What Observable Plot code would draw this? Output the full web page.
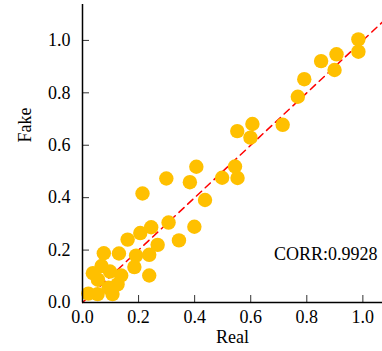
<!DOCTYPE html>
<html><head><meta charset="utf-8">
<script src="https://cdn.jsdelivr.net/npm/d3@7"></script>
<script src="https://cdn.jsdelivr.net/npm/@observablehq/plot@0.6"></script>
<style>body{margin:0;background:#fff}</style>
</head><body><div id="chart"></div>
<script>
const realValues = [0.984,0.984,0.906,0.851,0.899,0.791,0.768,0.714,0.606,0.552,0.599,0.544,0.553,0.498,0.406,0.383,0.299,0.214,0.437,0.307,0.399,0.245,0.206,0.344,0.161,0.268,0.076,0.130,0.191,0.238,0.185,0.068,0.037,0.098,0.138,0.055,0.238,0.125,0.093,0.021,0.054,0.107];
const fakeValues = [1.004,0.957,0.947,0.921,0.887,0.852,0.785,0.678,0.681,0.654,0.629,0.519,0.475,0.476,0.518,0.459,0.473,0.416,0.391,0.305,0.289,0.287,0.265,0.237,0.240,0.220,0.188,0.187,0.179,0.182,0.135,0.139,0.112,0.118,0.103,0.087,0.103,0.069,0.056,0.034,0.032,0.032];
const tickValues = [0, 0.2, 0.4, 0.6, 0.8, 1.0];
const refLine = [0, 1.07];
const corrLabel = "CORR:0.9928";
const xLabel = "Real";
const yLabel = "Fake";

const points = realValues.map((r, i) => ({real: r, fake: fakeValues[i]}));
const lineData = refLine.map(v => ({x: v, y: v}));
const fmt = d3.format(".1f");

const chart = Plot.plot({
  width: 382, height: 351,
  marginLeft: 82, marginRight: 0, marginTop: 4, marginBottom: 49,
  style: {fontFamily: "'Liberation Serif', 'Times New Roman', serif", fontSize: "18px", background: "white", color: "black"},
  x: {domain: [0, 1.07]},
  y: {domain: [0, 1.137]},
  marks: [
    Plot.axisX({ticks: tickValues, tickFormat: fmt, tickSize: -7, tickPadding: 15, label: null, fontSize: 18, stroke: "#333"}),
    Plot.axisY({ticks: tickValues, tickFormat: fmt, tickSize: -7, tickPadding: 19, label: null, fontSize: 18, stroke: "#333"}),
    Plot.line(lineData, {x: "x", y: "y", stroke: "#ff0000", strokeWidth: 1.5, strokeDasharray: "7,5"}),
    Plot.dot(points, {x: "real", y: "fake", r: 7.2, fill: "#FFC000"}),
    Plot.ruleX([0], {stroke: "black", strokeWidth: 1.5}),
    Plot.ruleY([0], {stroke: "black", strokeWidth: 1.5}),
    Plot.text([corrLabel], {frameAnchor: "bottom-right", textAnchor: "end", lineAnchor: "middle", dx: -5, dy: -48, fontSize: 18}),
    Plot.text([xLabel], {frameAnchor: "bottom", lineAnchor: "middle", dy: 35, fontSize: 18}),
    Plot.text([yLabel], {frameAnchor: "left", rotate: -90, lineAnchor: "middle", dx: -57, dy: -11, fontSize: 18})
  ]
});
document.getElementById("chart").appendChild(chart);
</script>
</body></html>
